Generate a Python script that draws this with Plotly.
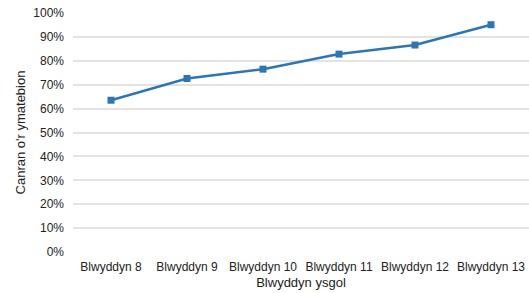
import plotly.graph_objects as go

categories = ["Blwyddyn 8", "Blwyddyn 9", "Blwyddyn 10", "Blwyddyn 11", "Blwyddyn 12", "Blwyddyn 13"]
values = [63.5, 72.6, 76.5, 82.8, 86.6, 95.1]
tick_vals = [0, 10, 20, 30, 40, 50, 60, 70, 80, 90, 100]
tick_text = [f"{v}%" for v in tick_vals]

fig = go.Figure(go.Scatter(
    x=categories, y=values, mode="lines+markers",
    line=dict(color="#2e75b6", width=2.5),
    marker=dict(symbol="square", size=7, color="#2e75b6"),
    hoverinfo="skip",
))

fig.update_layout(
    width=529, height=293,
    margin=dict(l=73, r=0, t=13, b=41),
    paper_bgcolor="white", plot_bgcolor="white",
    font=dict(family="Liberation Sans, Arial, sans-serif", size=12, color="#222"),
    showlegend=False,
    xaxis=dict(
        title=dict(text="Blwyddyn ysgol", font=dict(size=13), standoff=4),
        showgrid=False, zeroline=False, showline=False, ticks="",
        ticklabelstandoff=6,
        range=[-0.5, 5.5],
    ),
    yaxis=dict(
        title=dict(text="Canran o'r ymatebion", font=dict(size=13), standoff=4),
        range=[0, 100], tickvals=tick_vals, ticktext=tick_text,
        showgrid=True, gridcolor="#e3e3e3", gridwidth=1.5,
        zeroline=False, showline=False, ticks="",
        ticklabelstandoff=8,
    ),
)

fig.write_html("out.html", config={"displayModeBar": False},
               post_script="document.body.style.margin='0';document.body.style.overflow='hidden';")
